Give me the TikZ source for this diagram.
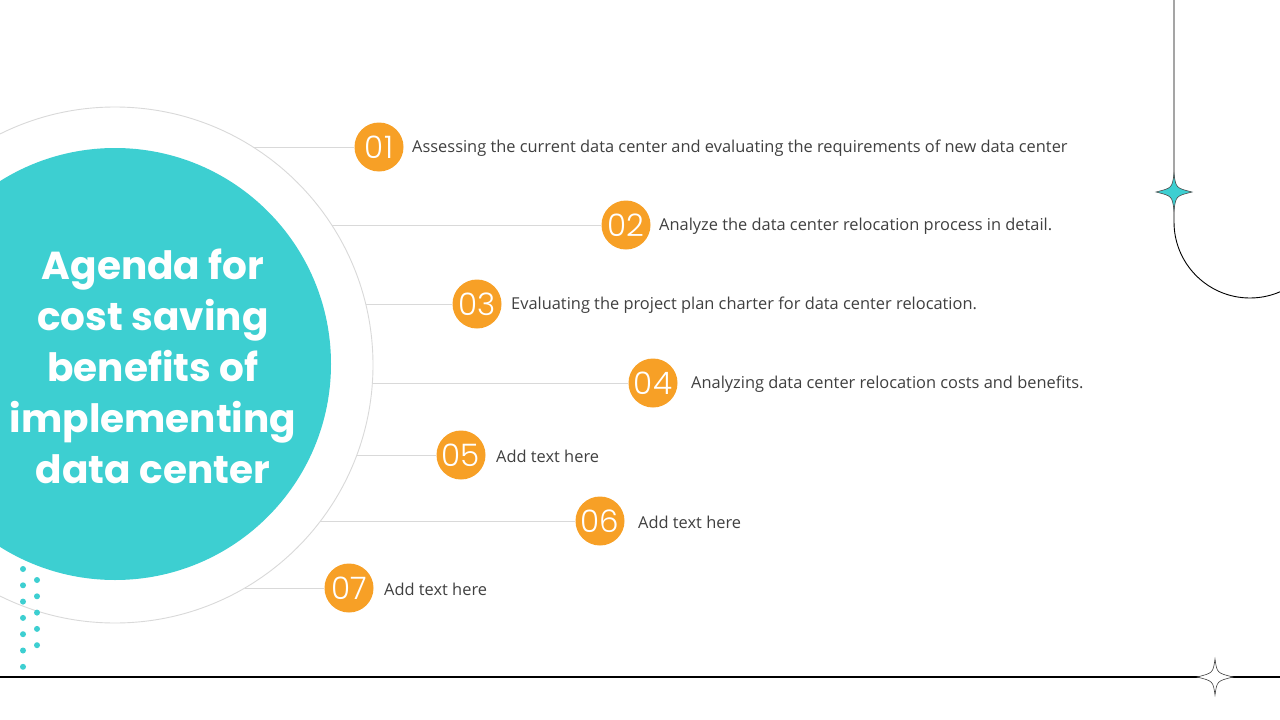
\documentclass[tikz,border=0pt]{standalone}
\usepackage{fontspec}
\setmainfont{Open Sans}
\newfontfamily\titlefont{Poppins}
\newfontfamily\numfont{Poppins}[UprightFont={* Light}]
\definecolor{teal1}{RGB}{61,207,209}
\definecolor{orng}{RGB}{247,160,38}
\definecolor{txtgray}{RGB}{64,64,64}
\definecolor{linegray}{RGB}{217,217,217}
\begin{document}
\begin{tikzpicture}[x=1pt,y=1pt]
\tikzset{
  numdot/.style={circle,fill=orng,minimum size=49pt,inner sep=0pt,text=white,font=\numfont\fontsize{31}{31}\selectfont},
  itemtext/.style={anchor=west,inner sep=0pt,text=txtgray,font=\fontsize{16.4}{19}\selectfont},
  conn/.style={draw=linegray,line width=0.9pt},
  tdot/.style={circle,fill=teal1,minimum size=6pt,inner sep=0pt},
  star4/.style={line width=0.6pt}
}
\useasboundingbox (0,0) rectangle (1280,-720);
\fill[white] (0,0) rectangle (1280,-720);
% big circles
\draw[linegray,line width=0.9pt] (115,-365) circle[radius=258pt];
\fill[teal1] (115,-364) circle[radius=216pt];
\node[align=center,text=white,font=\titlefont\bfseries\fontsize{39}{51}\selectfont] (title) at (153,-366) {Agenda for\\cost saving\\benefits of\\implementing\\data center};
% start points on the outer circle
\coordinate (s1) at (253,-147);
\coordinate (s2) at (332,-225);
\coordinate (s3) at (366,-304);
\coordinate (s4) at (372,-383);
\coordinate (s5) at (357,-455);
\coordinate (s6) at (320,-521);
\coordinate (s7) at (245,-588);
% numbered dots
\node[numdot] (n1) at (379,-147) {01};
\node[numdot] (n2) at (626,-225) {02};
\node[numdot] (n3) at (477,-304) {03};
\node[numdot] (n4) at (653,-383) {04};
\node[numdot] (n5) at (461,-455) {05};
\node[numdot] (n6) at (600,-521) {06};
\node[numdot] (n7) at (349,-588) {07};
\foreach \i in {1,...,7} {\draw[conn] (s\i) -- (n\i);}
% texts
\node[itemtext] (t1) at (412,-148.5) {Assessing the current data center and evaluating the requirements of new data center};
\node[itemtext] (t2) at (659,-226.5) {Analyze the data center relocation process in detail.};
\node[itemtext] (t3) at (511,-305.5) {Evaluating the project plan charter for data center relocation.};
\node[itemtext] (t4) at (691,-384.5) {Analyzing data center relocation costs and benefits.};
\node[itemtext] (t5) at (496,-456.5) {Add text here};
\node[itemtext] (t6) at (638,-522.5) {Add text here};
\node[itemtext] (t7) at (384,-589.5) {Add text here};
% dots
\foreach \k in {0,...,6} {\node[tdot] (da\k) at (23,-569-16.3*\k) {};}
\foreach \k in {0,...,4} {\node[tdot] (db\k) at (37,-580-16.3*\k) {};}
% bottom line and star
\draw[black,line width=1.2pt] (0,-677) -- (1280,-677);
\filldraw[fill=white,draw=black!75,star4] (1215,-659) .. controls (1217,-673) .. (1233,-677) .. controls (1217,-681) .. (1215,-695) .. controls (1213,-681) .. (1197,-677) .. controls (1213,-673) .. cycle;
% right decoration
\draw[black,line width=0.9pt] (1174,0) -- (1174,-222) arc[start angle=180,end angle=297,radius=76pt];
\filldraw[fill=teal1,draw=black!70,star4] (1174,-174) .. controls (1176,-188) .. (1192,-192) .. controls (1176,-196) .. (1174,-210) .. controls (1172,-196) .. (1156,-192) .. controls (1172,-188) .. cycle;
\end{tikzpicture}
\end{document}
